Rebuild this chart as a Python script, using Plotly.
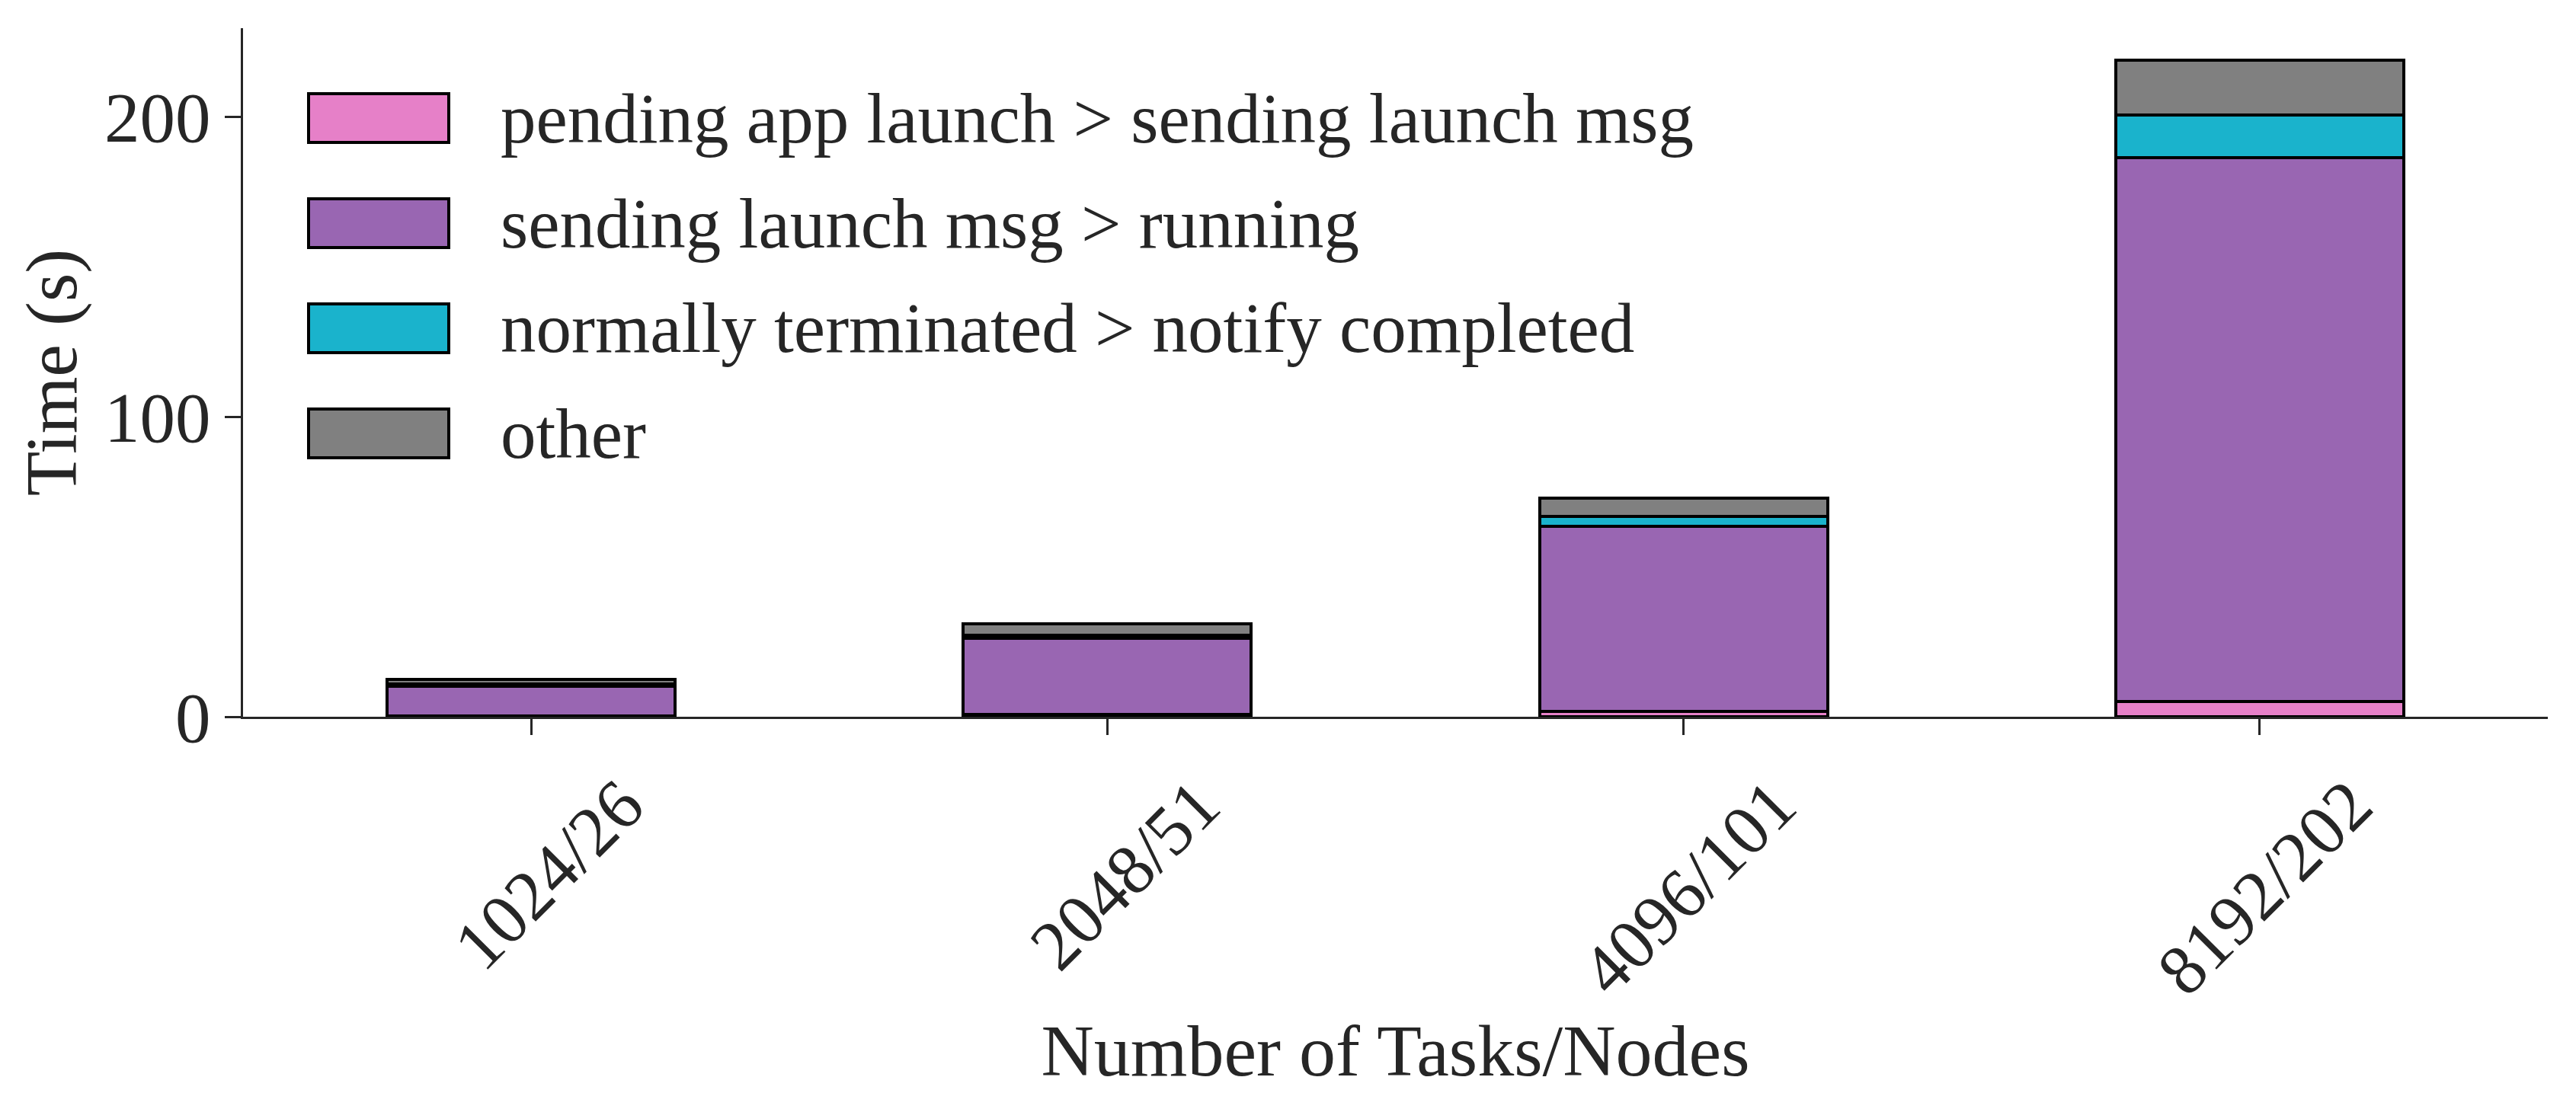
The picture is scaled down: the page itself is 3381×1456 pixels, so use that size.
import plotly.graph_objects as go

categories = ["1024/26", "2048/51", "4096/101", "8192/202"]
series_names = [
    "pending app launch > sending launch msg",
    "sending launch msg > running",
    "normally terminated > notify completed",
    "other",
]
pending = [0.3, 0.7, 1.9, 5.2]
sending = [9.8, 25.5, 61.6, 181.3]
terminated = [0.8, 1.0, 3.3, 14.1]
other = [1.5, 3.8, 6.0, 18.3]
series_values = [pending, sending, terminated, other]
colors = ["#e680c8", "#9966b2", "#1ab3cc", "#808080"]
y_ticks = [0, 100, 200]

W, H = 3381, 1456
ML, MR, MT, MB = 319, 37, 37, 515
FONT = "Liberation Serif"
FS = 93
TXT = "#262626"

fig = go.Figure()
for name, vals, col in zip(series_names, series_values, colors):
    fig.add_trace(go.Bar(
        x=list(range(len(categories))), y=vals, name=name,
        marker=dict(color=col, line=dict(color="black", width=4)),
        width=0.5, showlegend=False,
    ))

# manual legend (large swatches like the reference)
pw = W - ML - MR
ph = H - MT - MB
def px_x(p):
    return (p - ML) / pw
def px_y(p):
    return (H - MB - p) / ph
row_centers = [155, 293, 431, 569]
shapes = []
annotations = []
for name, col, yc in zip(series_names, colors, row_centers):
    shapes.append(dict(type="rect", xref="paper", yref="paper",
                       x0=px_x(405), x1=px_x(589), y0=px_y(yc + 32), y1=px_y(yc - 32),
                       fillcolor=col, line=dict(color="black", width=4)))
    annotations.append(dict(xref="paper", yref="paper", x=px_x(655), y=px_y(yc),
                            xanchor="left", yanchor="middle", text=name, showarrow=False,
                            font=dict(family=FONT, size=FS, color=TXT)))

fig.update_layout(
    barmode="stack",
    width=W, height=H,
    margin=dict(l=ML, r=MR, t=MT, b=MB, pad=0),
    paper_bgcolor="white", plot_bgcolor="white",
    font=dict(family=FONT, size=FS, color=TXT),
    shapes=shapes, annotations=annotations,
    xaxis=dict(
        tickmode="array", tickvals=list(range(len(categories))), ticktext=categories,
        tickangle=-45, ticklabelshift=120, range=[-0.5, 3.5], showline=True, linecolor=TXT, linewidth=3,
        ticks="outside", ticklen=21, tickwidth=3, tickcolor=TXT, showgrid=False, zeroline=False,
        title=dict(text="Number of Tasks/Nodes", font=dict(family=FONT, size=FS + 3, color=TXT), standoff=12),
        tickfont=dict(family=FONT, size=FS, color=TXT),
    ),
    yaxis=dict(
        range=[0, 229.6], tickmode="array", tickvals=y_ticks, showline=True, linecolor=TXT, linewidth=3,
        ticks="outside", ticklen=21, tickwidth=3, tickcolor=TXT, showgrid=False, zeroline=False,
        title=dict(text="Time (s)", font=dict(family=FONT, size=FS + 3, color=TXT), standoff=5),
        tickfont=dict(family=FONT, size=FS, color=TXT),
    ),
)

fig.write_html("out.html")
